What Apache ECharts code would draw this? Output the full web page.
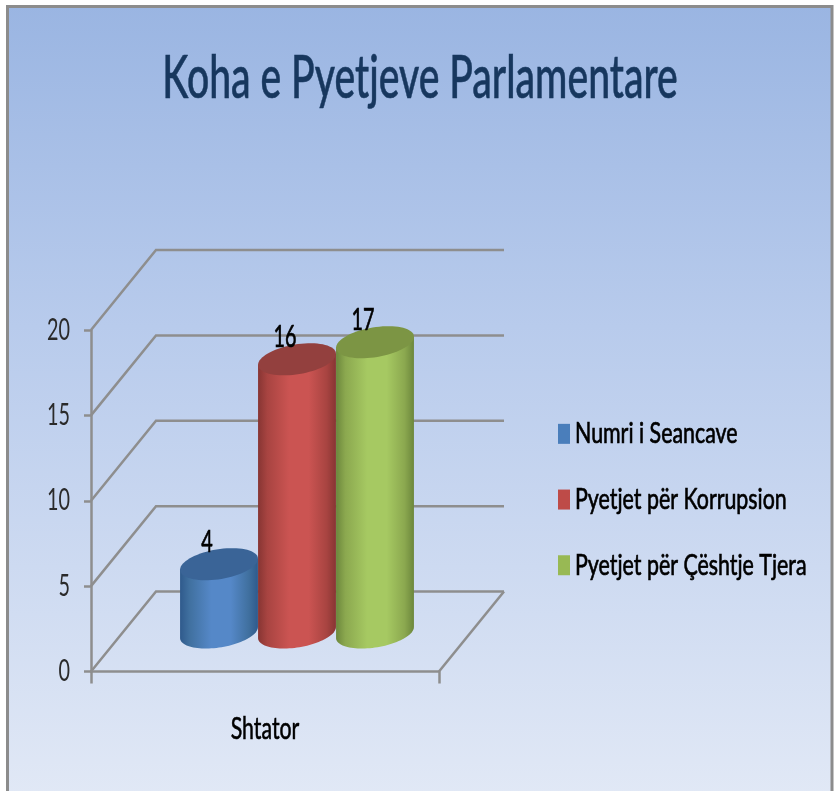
<!DOCTYPE html>
<html><head><meta charset="utf-8">
<style>html,body{margin:0;padding:0;background:#fff}#c{width:836px;height:791px}</style>
<script src="https://cdn.jsdelivr.net/npm/echarts@6/dist/echarts.min.js"></script>
</head><body><div id="c"></div>
<script>
const categories = ['Shtator'];
const seriesNames = ['Numri i Seancave', 'Pyetjet për Korrupsion', 'Pyetjet për Çështje Tjera'];
const numriSeancave = [4];
const pyetjetKorrupsion = [16];
const pyetjetTjera = [17];
const yTicks = [0, 5, 10, 15, 20];
const titleText = 'Koha e Pyetjeve Parlamentare';
const FONT = 'Lato,sans-serif';
const SX = 0.66;
const DX = 65, DY = -80;
const A = 39.4, B = 14.9, TH = 9.4 * Math.PI / 180;
function ell(cx, cy, t) {
  return [cx + A * Math.cos(t) * Math.cos(TH) + B * Math.sin(t) * Math.sin(TH),
          cy - A * Math.cos(t) * Math.sin(TH) + B * Math.sin(t) * Math.cos(TH)];
}
function grad(edge, near, mid) {
  return new echarts.graphic.LinearGradient(0, 0, 1, 0, [
    {offset: 0, color: edge}, {offset: 0.12, color: near}, {offset: 0.4, color: mid},
    {offset: 0.65, color: mid}, {offset: 0.88, color: near}, {offset: 1, color: edge}]);
}
function cylinder(slot, edge, near, mid, topC) {
  return function (params, api) {
    const v = api.value(1);
    const base = api.coord([0, 0]);
    const top = api.coord([0, v]);
    const band = api.size([1, 0])[0];
    const cx = base[0] + DX / 2 - 0.5 + slot * band * 0.2241;
    const cyB = base[1] + DY / 2 + 1;
    const cyT = top[1] + DY / 2 + 1;
    const t0 = Math.atan2(B * Math.sin(TH), A * Math.cos(TH));
    const body = [];
    for (let i = 0; i <= 48; i++) body.push(ell(cx, cyB, t0 + Math.PI * i / 48));
    body.push(ell(cx, cyT, t0 + Math.PI));
    body.push(ell(cx, cyT, t0));
    const cap = [];
    for (let i = 0; i < 72; i++) cap.push(ell(cx, cyT, 2 * Math.PI * i / 72));
    return {type: 'group', children: [
      {type: 'polygon', shape: {points: body}, style: {fill: grad(edge, near, mid)}},
      {type: 'polygon', shape: {points: cap}, style: {fill: topC}},
      {type: 'text', x: cx - 12, y: cyT - 22, scaleX: SX, style: {text: String(v), align: 'center', verticalAlign: 'middle',
        font: '30px ' + FONT, fill: '#000', stroke: '#000', lineWidth: 0.7}}
    ]};
  };
}
function wall(params, api) {
  const band = api.size([1, 0])[0];
  const c = api.coord([0, 0]);
  const x0 = c[0] - band / 2, x1 = c[0] + band / 2;
  const ln = {stroke: '#8e8e8e', lineWidth: 2.5, fill: null};
  const kids = [];
  yTicks.forEach(t => {
    const y = api.coord([0, t])[1];
    kids.push({type: 'polyline', shape: {points: [[x0, y], [x0 + DX, y + DY], [x1 + DX, y + DY]]}, style: ln});
  });
  kids.push({type: 'polyline', shape: {points: [[x1, c[1]], [x1 + DX, c[1] + DY]]}, style: ln});
  return {type: 'group', children: kids};
}
const axisLine = {show: true, lineStyle: {color: '#8e8e8e', width: 2.5}};
const chart = echarts.init(document.getElementById('c'), null, {renderer: 'canvas'});
chart.setOption({
  animation: false,
  title: {text: titleText, left: 415, top: 44, textAlign: 'center',
    textStyle: {fontFamily: FONT, fontSize: 60, fontWeight: 500, color: '#17375e', textBorderColor: '#17375e', textBorderWidth: 0.6}},
  graphic: [{type: 'rect', z: -10, silent: true, shape: {x: 7.5, y: 6.5, width: 824.5, height: 800},
    style: {stroke: '#8c8c8c', lineWidth: 3, fill: new echarts.graphic.LinearGradient(0, 0, 0, 1, [
      {offset: 0, color: '#9ab5e2'}, {offset: 0.4, color: '#b8cbec'}, {offset: 1, color: '#e2e9f6'}])}}],
  grid: {left: 91, top: 330, width: 348, height: 341.5},
  legend: {orient: 'vertical', left: 553, top: 414, itemWidth: 12, itemHeight: 20, itemGap: 36, icon: 'rect',
    data: seriesNames, selectedMode: false,
    textStyle: {fontFamily: FONT, fontSize: 29, color: '#000', textBorderColor: '#000', textBorderWidth: 0.7}},
  xAxis: {type: 'category', data: categories, axisLine, axisTick: {show: true, length: 12, lineStyle: {color: '#8e8e8e', width: 2.5}},
    axisLabel: {fontFamily: FONT, fontSize: 30, color: '#000', margin: 43, textBorderColor: '#000', textBorderWidth: 0.6}},
  yAxis: {type: 'value', min: 0, max: 20, interval: 5, axisLine, splitLine: {show: false},
    axisTick: {show: true, length: 7, lineStyle: {color: '#8e8e8e', width: 2.5}},
    axisLabel: {fontFamily: FONT, fontSize: 30, color: '#2a2a2a', margin: 21}},
  series: [
    {type: 'custom', name: 'wall', silent: true, z: 1, renderItem: wall, data: [[0, 0]]},
    {type: 'custom', name: seriesNames[0], z: 2, itemStyle: {color: '#4a7ebb'},
      renderItem: cylinder(-1, '#2f5a8c', '#40709f', '#5588c8', '#3a6497'), data: numriSeancave.map((v, i) => [i, v])},
    {type: 'custom', name: seriesNames[1], z: 2, itemStyle: {color: '#be4b48'},
      renderItem: cylinder(0, '#873533', '#a84441', '#cb5452', '#93403e'), data: pyetjetKorrupsion.map((v, i) => [i, v])},
    {type: 'custom', name: seriesNames[2], z: 2, itemStyle: {color: '#98b954'},
      renderItem: cylinder(1, '#6c873c', '#8ba84f', '#a6c962', '#7c9544'), data: pyetjetTjera.map((v, i) => [i, v])}
  ]
});
// The reference uses horizontally squeezed type: narrow the native title, axis and legend texts.
const squeeze = {};
yTicks.map(String).forEach(s => { squeeze[s] = SX; });
categories.forEach(s => { squeeze[s] = 0.71; });
seriesNames.forEach(s => { squeeze[s] = 0.737; });
squeeze[titleText] = 0.652;
function walk(el) {
  if (el.isGroup) { el.eachChild(walk); return; }
  const s = el.style && typeof el.style.text === 'string' ? squeeze[el.style.text] : null;
  if (s && el.childrenRef && el.scaleX === 1) {
    el.scaleX = s;
    el.originX = el.style.x || 0;
    el.markRedraw();
  }
}
chart.getZr().storage.getRoots().forEach(walk);
</script></body></html>
